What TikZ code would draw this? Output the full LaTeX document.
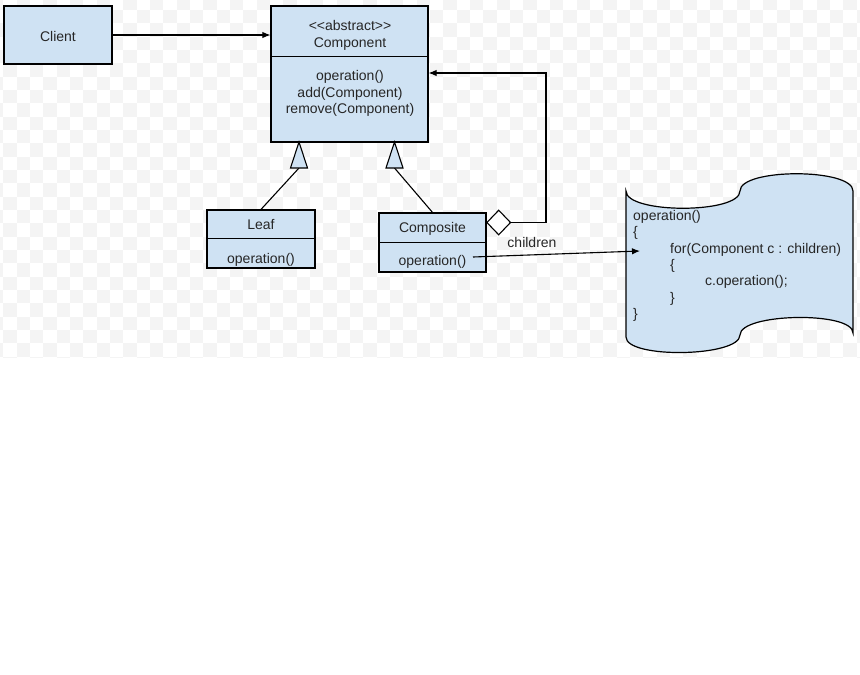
\documentclass[tikz,border=0pt]{standalone}
\usepackage{fontspec}
\setmainfont{Liberation Sans}
\usetikzlibrary{arrows.meta,shapes.geometric,calc}
\definecolor{boxfill}{HTML}{CFE2F3}
\definecolor{checker}{HTML}{F4F4F4}
\definecolor{ink}{HTML}{262626}
\begin{document}
\begin{tikzpicture}[x=1pt,y=-1pt,
  box/.style={draw=black,line width=1.2pt,fill=boxfill,inner sep=0pt},
  lbl/.style={inner sep=0pt,text=ink,font=\fontsize{14}{16}\selectfont,text height=12pt,text depth=1pt},
  code/.style={lbl,anchor=west},
  arr/.style={line width=1.1pt,-{Latex[length=8pt,width=6.5pt]}},
  link/.style={line width=1.1pt},
  gen/.style={draw=black,line width=1.1pt,fill=boxfill,line join=miter}]
\useasboundingbox (0,0) rectangle (860,675);

% faint checkered backdrop
\begin{scope}
  \clip (0,0) rectangle (860,357);
  \foreach \i in {-1,1,...,63}{
    \foreach \j in {-1,1,...,25}{
      \fill[checker] (3.333+13.333*\i,10+13.333*\j) rectangle ++(13.333,13.333);
      \fill[checker] (16.666+13.333*\i,23.333+13.333*\j) rectangle ++(13.333,13.333);
    }
  }
\end{scope}

% class boxes
\node[box,minimum width=108pt,minimum height=58pt] (client) at (58,35) {};
\node[box,minimum width=157pt,minimum height=136pt] (comp) at (349.5,74) {};
\node[box,minimum width=108pt,minimum height=58pt] (leaf) at (261,239) {};
\node[box,minimum width=107pt,minimum height=59pt] (compo) at (432.5,242.5) {};

% compartment dividers
\draw[link] ($(comp.north west)+(0,51)$) -- ($(comp.north east)+(0,51)$);
\draw[link] ($(leaf.north west)+(0,29.5)$) -- ($(leaf.north east)+(0,29.5)$);
\draw[link] ($(compo.north west)+(0,30)$) -- ($(compo.north east)+(0,30)$);

% labels
\node[lbl] (clientname) at (58,36) {Client};
\node[lbl] (stereo) at (350,25) {<\kern0pt<abstract>\kern0pt>};
\node[lbl] (compname) at (350,42) {Component};
\node[lbl] (compop) at (350,75) {operation()};
\node[lbl] (compadd) at (350,92) {add(Component)};
\node[lbl] (comprm) at (350,108) {remove(Component)};
\node[lbl] (leafname) at (261,224) {Leaf};
\node[lbl] (leafop) at (261,258) {operation()};
\node[lbl] (componame) at (432.5,227) {Composite};
\node[lbl] (compoop) at (432.5,260) {operation()};
\node[lbl] (children) at (532,242) {children};

% note with the composite's operation body
\draw[box] (626,191) .. controls (626,214) and (740,214) .. (740,191)
  .. controls (740,168) and (853,168) .. (853,191)
  -- (853,333) .. controls (853,311) and (740,313) .. (740,335)
  .. controls (740,357) and (626,359) .. (626,337) -- cycle;
\node[code] (c1) at (633,215) {operation()};
\node[code] (c2) at (633,231) {\{};
\node[code] (c3) at (670,248) {for(Component c : children)};
\node[code] (c4) at (670,264) {\{};
\node[code] (c5) at (705,280) {c.operation();};
\node[code] (c6) at (670,297) {\}};
\node[code] (c7) at (633,313) {\}};

% association from the client
\draw[arr] (client.east) -- (client.east -| comp.west);

% generalisations
\coordinate (g1) at (299,142);
\coordinate (g2) at (394.5,142);
\draw[link] ($(g1)+(0,26)$) -- (leaf.north);
\draw[link] ($(g2)+(0,26)$) -- (compo.north);
\draw[gen] (g1) -- ++(-8.5,26) -- ++(17,0) -- cycle;
\draw[gen] (g2) -- ++(-8.5,26) -- ++(17,0) -- cycle;

% aggregation of children
\node[draw=black,line width=1.1pt,fill=white,diamond,minimum width=24pt,minimum height=25pt,inner sep=0pt] (agg) at (498.7,222.5) {};
\coordinate (loop) at (546,73);
\draw[arr] (agg.east) -| (loop) -- (loop -| comp.east);

% call into the note
\coordinate (callsrc) at (473,257);
\coordinate (calltgt) at (640,251);
\draw[arr] (callsrc) -- (calltgt);
\end{tikzpicture}
\end{document}
